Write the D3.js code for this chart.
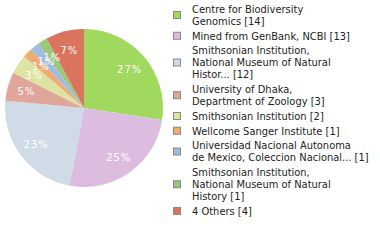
<!DOCTYPE html>
<html><head><meta charset="utf-8">
<script src="https://cdn.jsdelivr.net/npm/d3@7"></script>
<style>html,body{margin:0;padding:0;background:#fff;}svg{display:block;}</style>
</head><body>
<svg id="c" width="380" height="240"></svg>
<script>
const categories = [
  ["Centre for Biodiversity", "Genomics [14]"],
  ["Mined from GenBank, NCBI [13]"],
  ["Smithsonian Institution,", "National Museum of Natural", "Histor... [12]"],
  ["University of Dhaka,", "Department of Zoology [3]"],
  ["Smithsonian Institution [2]"],
  ["Wellcome Sanger Institute [1]"],
  ["Universidad Nacional Autonoma", "de Mexico, Coleccion Nacional... [1]"],
  ["Smithsonian Institution,", "National Museum of Natural", "History [1]"],
  ["4 Others [4]"]
];
const values = [14, 13, 12, 3, 2, 1, 1, 1, 4];
const colors = ["#a0d95e", "#dcbde0", "#cfdbe6", "#e0a69b", "#dde3a1", "#f0ab70", "#9fbde3", "#9dc67a", "#db745c"];

const svg = d3.select("#c");
const cx = 84, cy = 108, R = 79;
const total = d3.sum(values);
const pie = d3.pie().sort(null).value(d => d);
const arcs = pie(values);
const arc = d3.arc().innerRadius(0).outerRadius(R);
const labelArc = d3.arc().innerRadius(R * 0.76).outerRadius(R * 0.76);
const g = svg.append("g").attr("transform", `translate(${cx},${cy})`);
g.selectAll("path").data(arcs).join("path")
  .attr("d", arc).attr("fill", (d, i) => colors[i]);
g.selectAll("text").data(arcs).join("text")
  .attr("transform", d => `translate(${labelArc.centroid(d)})`)
  .attr("text-anchor", "middle").attr("dy", "0.35em")
  .attr("fill", "#fff").attr("font-family", "DejaVu Sans Condensed, DejaVu Sans")
  .attr("font-size", 11).attr("letter-spacing", 1)
  .text(d => Math.floor(d.data / total * 100) + "%");

const lg = svg.append("g");
const lineH = 12, gap = 2.75;
let y = 9;
categories.forEach((lines, i) => {
  const n = lines.length;
  const mid = y + (n - 1) * lineH / 2;
  lg.append("rect").attr("x", 173.5).attr("y", mid - 3.5).attr("width", 7).attr("height", 7)
    .attr("fill", colors[i]).attr("stroke", "#888").attr("stroke-width", 1);
  lines.forEach((t, j) => {
    lg.append("text").attr("x", 192).attr("y", y + j * lineH).attr("dy", "0.35em")
      .attr("font-family", "DejaVu Sans Condensed, DejaVu Sans").attr("font-size", 11)
      .attr("fill", "#222").text(t);
  });
  y += n * lineH + gap;
});
</script>
</body></html>
